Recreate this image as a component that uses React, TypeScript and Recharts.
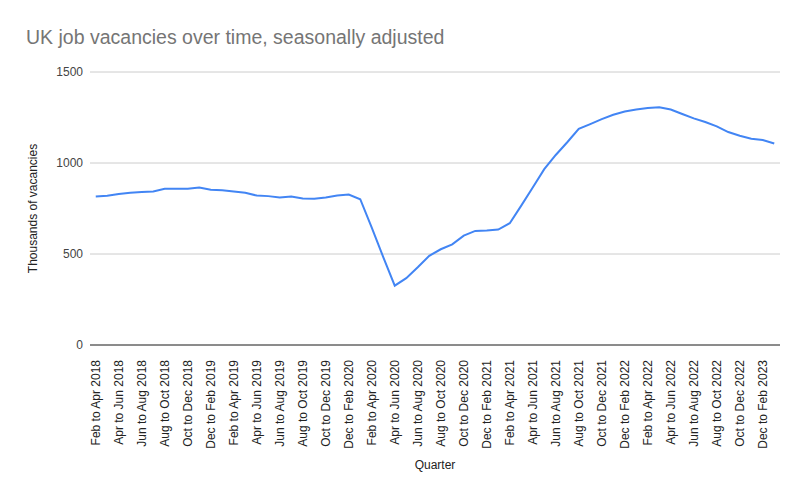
import { LineChart, Line, XAxis, YAxis, CartesianGrid } from "recharts";

const quarters = [
  "Feb to Apr 2018", "Mar to May 2018", "Apr to Jun 2018", "May to Jul 2018",
  "Jun to Aug 2018", "Jul to Sep 2018", "Aug to Oct 2018", "Sep to Nov 2018",
  "Oct to Dec 2018", "Nov to Jan 2019", "Dec to Feb 2019", "Jan to Mar 2019",
  "Feb to Apr 2019", "Mar to May 2019", "Apr to Jun 2019", "May to Jul 2019",
  "Jun to Aug 2019", "Jul to Sep 2019", "Aug to Oct 2019", "Sep to Nov 2019",
  "Oct to Dec 2019", "Nov to Jan 2020", "Dec to Feb 2020", "Jan to Mar 2020",
  "Feb to Apr 2020", "Mar to May 2020", "Apr to Jun 2020", "May to Jul 2020",
  "Jun to Aug 2020", "Jul to Sep 2020", "Aug to Oct 2020", "Sep to Nov 2020",
  "Oct to Dec 2020", "Nov to Jan 2021", "Dec to Feb 2021", "Jan to Mar 2021",
  "Feb to Apr 2021", "Mar to May 2021", "Apr to Jun 2021", "May to Jul 2021",
  "Jun to Aug 2021", "Jul to Sep 2021", "Aug to Oct 2021", "Sep to Nov 2021",
  "Oct to Dec 2021", "Nov to Jan 2022", "Dec to Feb 2022", "Jan to Mar 2022",
  "Feb to Apr 2022", "Mar to May 2022", "Apr to Jun 2022", "May to Jul 2022",
  "Jun to Aug 2022", "Jul to Sep 2022", "Aug to Oct 2022", "Sep to Nov 2022",
  "Oct to Dec 2022", "Nov to Jan 2023", "Dec to Feb 2023", "Jan to Mar 2023",
];

// thousands of vacancies
const vacancies = [
  816, 820, 830, 836, 840, 843, 858, 858, 858, 865, 853, 850,
  843, 836, 821, 818, 811, 816, 805, 803, 810, 821, 827, 801,
  645, 483, 326, 367, 427, 490, 526, 553, 601, 627, 629, 634,
  669, 766, 865, 966, 1044, 1114, 1188, 1214, 1241, 1265, 1283, 1294,
  1302, 1306, 1294, 1269, 1245, 1225, 1201, 1170, 1150, 1133, 1126, 1107,
];

const yTicks = [0, 500, 1000, 1500];

const data = quarters.map((q, i) => ({ quarter: q, value: vacancies[i] }));

const FONT = "'Liberation Sans', Arial, sans-serif";

const QuarterTick = (props: any) => {
  const { x, y, payload } = props;
  return (
    <g transform={`translate(${x},${y})`}>
      <text
        transform="rotate(-90)"
        x={-7}
        y={0}
        dy={4}
        textAnchor="end"
        fontFamily={FONT}
        fontSize={12}
        fill="#222222"
      >
        {payload.value}
      </text>
    </g>
  );
};

export default function App() {
  return (
    <div style={{ position: "absolute", left: 0, top: 0, width: 805, height: 498, background: "#fff" }}>
      <LineChart
        width={805}
        height={498}
        data={data}
        margin={{ top: 72, right: 25, bottom: 0, left: 0 }}
      >
        <text x={26} y={44} fontFamily={FONT} fontSize={19.5} fill="#757575">
          UK job vacancies over time, seasonally adjusted
        </text>
        <CartesianGrid vertical={false} stroke="#cccccc" />
        <XAxis
          dataKey="quarter"
          interval={1}
          height={153}
          padding={{ left: 5.75, right: 5.75 }}
          tickLine={false}
          axisLine={{ stroke: "#333333" }}
          tick={<QuarterTick />}
          label={() => (
            <text x={435} y={469} textAnchor="middle" fontFamily={FONT} fontSize={12} fill="#222222">
              Quarter
            </text>
          )}
        />
        <YAxis
          width={90}
          domain={[0, 1500]}
          ticks={yTicks}
          axisLine={false}
          tickLine={false}
          tickSize={0}
          tickMargin={7}
          tick={{ fontFamily: FONT, fontSize: 12, fill: "#444444" }}
          label={() => (
            <text
              x={37}
              y={208.5}
              transform="rotate(-90 37 208.5)"
              textAnchor="middle"
              fontFamily={FONT}
              fontSize={12}
              fill="#222222"
            >
              Thousands of vacancies
            </text>
          )}
        />
        <Line
          type="linear"
          dataKey="value"
          stroke="#4285F4"
          strokeWidth={2}
          dot={false}
          isAnimationActive={false}
        />
      </LineChart>
    </div>
  );
}
